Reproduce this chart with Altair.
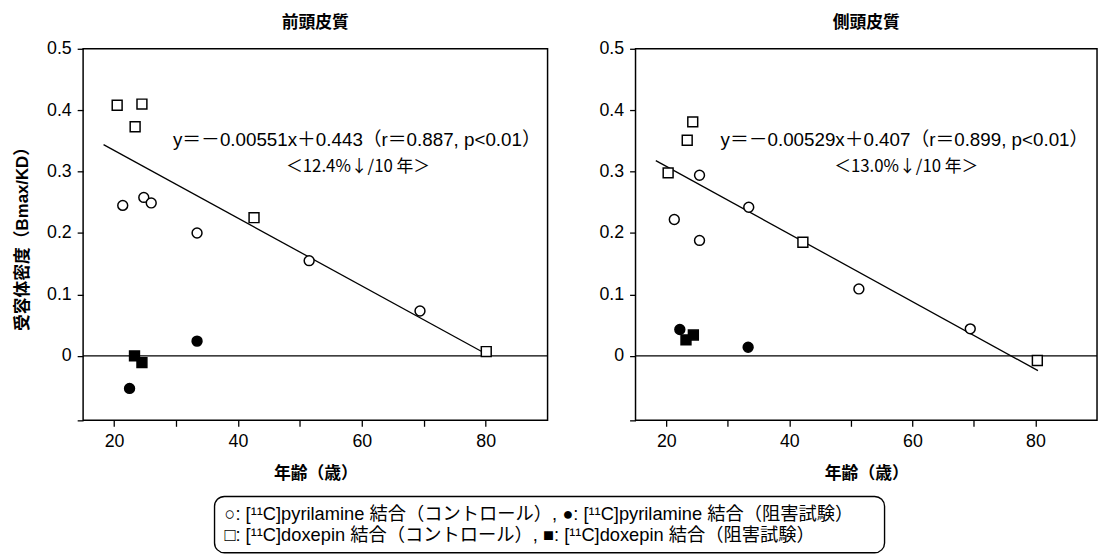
import altair as alt
import pandas as pd

FONT = "Liberation Sans, Noto Sans CJK JP, sans-serif"
CJK_FONT = "Noto Sans CJK JP, Liberation Sans, sans-serif"

GROUPS = ["pyr_ctrl", "pyr_inh", "dox_ctrl", "dox_inh"]

# 前頭皮質 (frontal cortex)
f_pyr_ctrl_age = [21.4, 24.8, 26.0, 33.4, 51.5, 69.4]
f_pyr_ctrl_val = [0.245, 0.258, 0.249, 0.200, 0.155, 0.073]
f_pyr_inh_age = [22.5, 33.4]
f_pyr_inh_val = [-0.053, 0.024]
f_dox_ctrl_age = [20.5, 23.4, 24.5, 42.6, 80.1]
f_dox_ctrl_val = [0.408, 0.373, 0.410, 0.225, 0.007]
f_dox_inh_age = [23.3, 24.5]
f_dox_inh_val = [0.000, -0.011]
f_line_age = [18.3, 80.1]
f_line_val = [0.344, 0.003]
f_eq = "y＝－0.00551x＋0.443（r＝0.887, p<0.01）"
f_rate = "＜12.4%↓/10 年＞"

# 側頭皮質 (temporal cortex)
t_pyr_ctrl_age = [21.3, 25.4, 25.4, 33.4, 51.3, 69.4]
t_pyr_ctrl_val = [0.222, 0.294, 0.188, 0.242, 0.109, 0.044]
t_pyr_inh_age = [22.2, 33.3]
t_pyr_inh_val = [0.043, 0.014]
t_dox_ctrl_age = [20.3, 23.4, 24.3, 42.2, 80.3]
t_dox_ctrl_val = [0.298, 0.351, 0.381, 0.185, -0.0075]
t_dox_inh_age = [23.2, 24.4]
t_dox_inh_val = [0.026, 0.034]
t_line_age = [18.3, 80.4]
t_line_val = [0.318, -0.024]
t_eq = "y＝－0.00529x＋0.407（r＝0.899, p<0.01）"
t_rate = "＜13.0%↓/10 年＞"

eq_pos_f = (59.2, 0.352)
rate_pos_f = (59.4, 0.307)
eq_pos_t = (58.7, 0.352)
rate_pos_t = (59.0, 0.307)

legend_lines = [
    "○: [¹¹C]pyrilamine 結合（コントロール）, ●: [¹¹C]pyrilamine 結合（阻害試験）",
    "□: [¹¹C]doxepin 結合（コントロール）, ■: [¹¹C]doxepin 結合（阻害試験）",
]

x_ticks = [20, 30, 40, 50, 60, 70, 80]
y_ticks = [-0.105, 0, 0.1, 0.2, 0.3, 0.4, 0.5]
zero_val = [0]

XDOM = [15, 90]
YDOM = [-0.105, 0.5]


def points_df(pc_a, pc_v, pi_a, pi_v, dc_a, dc_v, di_a, di_v):
    rows = []
    for g, ages, vals in zip(GROUPS, [pc_a, pi_a, dc_a, di_a], [pc_v, pi_v, dc_v, di_v]):
        for a, v in zip(ages, vals):
            rows.append({"age": a, "val": v, "grp": g})
    return pd.DataFrame(rows)


def panel(title, pts, line_a, line_v, eq, eq_pos, rate, rate_pos, width, show_ytitle):
    xenc = alt.X(
        "age:Q",
        scale=alt.Scale(domain=XDOM, nice=False, zero=False),
        axis=alt.Axis(
            values=x_ticks,
            labelExpr="datum.value % 20 == 0 ? datum.label : ''",
            title="年齢（歳）",
            grid=False,
            domain=False,
            tickSize=6,
            tickWidth=1.3,
            tickColor="black",
            labelFontSize=18,
            labelPadding=6,
            labelColor="black",
            titleFontSize=17,
            titleFontWeight="bold",
            titlePadding=16,
            titleColor="black",
        ),
    )
    yaxis = alt.Axis(
        values=y_ticks,
        labelExpr="datum.value < 0 ? '' : (datum.value == 0 ? '0' : format(datum.value, '.1f'))",
        grid=False,
        domain=False,
        tickSize=6,
        tickWidth=1.3,
        tickColor="black",
        labelFontSize=18,
        labelPadding=6,
        labelColor="black",
        titleFontSize=17,
        titleFontWeight="bold",
        titlePadding=15,
        titleColor="black",
        title="受容体密度（Bmax/KD）" if show_ytitle else None,
    )
    yenc = alt.Y("val:Q", scale=alt.Scale(domain=YDOM, nice=False, zero=False), axis=yaxis)

    zero = alt.Chart(pd.DataFrame({"val": zero_val})).mark_rule(color="black", strokeWidth=1.4).encode(y=yenc)
    line_df = pd.DataFrame({"age": line_a, "val": line_v})
    line = alt.Chart(line_df).mark_line(color="black", strokeWidth=1.3).encode(x=xenc, y=yenc)
    pts_chart = alt.Chart(pts).mark_point(filled=True, stroke="black", strokeWidth=1.5, opacity=1).encode(
        x=xenc,
        y=yenc,
        shape=alt.Shape("grp:N", scale=alt.Scale(domain=GROUPS, range=["circle", "circle", "square", "square"]), legend=None),
        fill=alt.Fill("grp:N", scale=alt.Scale(domain=GROUPS, range=["white", "black", "white", "black"]), legend=None),
        size=alt.Size("grp:N", scale=alt.Scale(domain=GROUPS, range=[100, 100, 121, 121]), legend=None),
    )
    eq_df = pd.DataFrame({"age": [eq_pos[0]], "val": [eq_pos[1]], "t": [eq]})
    rate_df = pd.DataFrame({"age": [rate_pos[0]], "val": [rate_pos[1]], "t": [rate]})
    eq_txt = alt.Chart(eq_df).mark_text(fontSize=19, color="black", align="center", baseline="middle").encode(
        x=xenc, y=yenc, text="t:N"
    )
    rate_txt = alt.Chart(rate_df).mark_text(fontSize=17, font=CJK_FONT, color="black", align="center",
                                            baseline="middle").encode(x=xenc, y=yenc, text="t:N")
    return alt.layer(zero, line, pts_chart, eq_txt, rate_txt).properties(
        width=width,
        height=376,
        title=alt.TitleParams(title, fontSize=17, fontWeight="bold", anchor="middle", offset=8, color="black"),
    )


f_pts = points_df(f_pyr_ctrl_age, f_pyr_ctrl_val, f_pyr_inh_age, f_pyr_inh_val,
                  f_dox_ctrl_age, f_dox_ctrl_val, f_dox_inh_age, f_dox_inh_val)
t_pts = points_df(t_pyr_ctrl_age, t_pyr_ctrl_val, t_pyr_inh_age, t_pyr_inh_val,
                  t_dox_ctrl_age, t_dox_ctrl_val, t_dox_inh_age, t_dox_inh_val)

left = panel("前頭皮質", f_pts, f_line_age, f_line_val, f_eq, eq_pos_f, f_rate, rate_pos_f, 470, True)
right = panel("側頭皮質", t_pts, t_line_age, t_line_val, t_eq, eq_pos_t, t_rate, rate_pos_t, 467, False)

top = alt.hconcat(left, right, spacing=49)

leg_df = pd.DataFrame({"line": [0, 1], "t": legend_lines})
leg_box = alt.Chart(pd.DataFrame({"line": [0]})).mark_rect(
    fill="white", stroke="black", strokeWidth=1.4, cornerRadius=10
).encode(x=alt.value(133), x2=alt.value(811), y=alt.value(0), y2=alt.value(57))
leg_text = alt.Chart(leg_df).mark_text(fontSize=18.5, align="left", baseline="middle", color="black").encode(
    x=alt.value(143),
    y=alt.Y("line:O", scale=alt.Scale(type="point", padding=0.86), axis=None),
    text="t:N",
)
legend = alt.layer(leg_box, leg_text).properties(
    width=812, height=57, view=alt.ViewBackground(stroke=None)
)

chart = alt.vconcat(top, legend, spacing=13).properties(
    padding={"left": 5, "top": 2, "right": 0, "bottom": 0}
).configure(font=FONT).configure_view(stroke="black", strokeWidth=1.5)

chart.save("out.html", embed_options={"renderer": "svg", "actions": False})
